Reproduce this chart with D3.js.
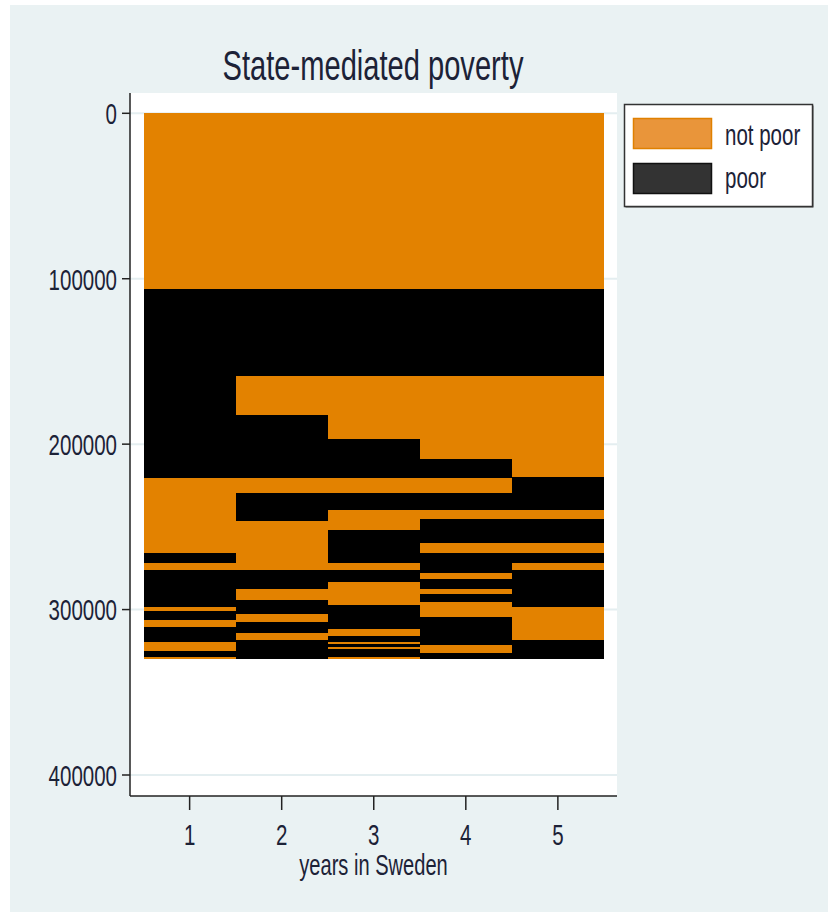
<!DOCTYPE html>
<html>
<head>
<meta charset="utf-8">
<script src="https://cdn.jsdelivr.net/npm/d3@7"></script>
<style>
  html, body { margin: 0; padding: 0; background: #ffffff; }
  svg { display: block; }
  text { font-family: "Liberation Sans", Arial, sans-serif; fill: #1c2237; }
</style>
</head>
<body>
<div id="chart"></div>
<script>
// ---- data ----
const chartTitle = "State-mediated poverty";
const xTitle = "years in Sweden";
const years = [1, 2, 3, 4, 5];
const stateLabels = ["not poor", "poor"];
const stateColors = ["#e38200", "#000000"];
const legendFill = ["#e9953a", "#333333"];
const legendStroke = ["#e08000", "#111111"];
const totalN = 329700;
const yTicks = [0, 100000, 200000, 300000, 400000];
// change points (cumulative sequence index); states alternate starting with "not poor"
const year1Breaks = [0, 106200, 220700, 265500, 271800, 276200, 298400, 300900, 306400, 310800, 319500, 325200, 328400];
const year2Breaks = [0, 106200, 158800, 182400, 220700, 229700, 246300, 276200, 287500, 294000, 302800, 307400, 314100, 318400];
const year3Breaks = [0, 106200, 158800, 196700, 220700, 229700, 239800, 251900, 271800, 276200, 283200, 297300, 312000, 316200, 319500, 320600, 322500, 324000, 328400];
const year4Breaks = [0, 106200, 158800, 209000, 220700, 229700, 239800, 245500, 260000, 265500, 277600, 281700, 287500, 290800, 295300, 304200, 321500, 326000];
const year5Breaks = [0, 106200, 158800, 220100, 239800, 245500, 260000, 265500, 271800, 276200, 298400, 318400];
const breaksByYear = [year1Breaks, year2Breaks, year3Breaks, year4Breaks, year5Breaks];

// ---- layout ----
const W = 833, H = 916;
const sx = 0.82, sy = 1.2; // condensed, tall Stata-like lettering

const svg = d3.select("#chart").append("svg").attr("width", W).attr("height", H);

svg.append("rect").attr("x", 10).attr("y", 5).attr("width", 818).attr("height", 907).attr("fill", "#eaf2f3");

const plotL = 130, plotR = 617, plotT = 93, plotB = 796;
svg.append("rect").attr("x", plotL).attr("y", plotT).attr("width", plotR - plotL).attr("height", plotB - plotT).attr("fill", "#ffffff");

const x = d3.scaleLinear().domain([0.5, 5.5]).range([143.6, 603.9]);
const y = d3.scaleLinear().domain([0, 400000]).range([113.3, 775]);

// gridlines
svg.append("g").selectAll("line").data(yTicks).join("line")
  .attr("x1", plotL).attr("x2", plotR)
  .attr("y1", d => y(d)).attr("y2", d => y(d))
  .attr("stroke", "#e4eef0").attr("stroke-width", 2);

// segments
const segs = [];
breaksByYear.forEach((br, yi) => {
  br.forEach((b, i) => {
    const end = i + 1 < br.length ? br[i + 1] : totalN;
    segs.push({ year: years[yi], start: b, end: end, state: i % 2 });
  });
});
svg.append("g").selectAll("rect").data(segs).join("rect")
  .attr("x", d => x(d.year - 0.5))
  .attr("width", d => x(d.year + 0.5) - x(d.year - 0.5))
  .attr("y", d => y(d.start))
  .attr("height", d => y(d.end) - y(d.start))
  .attr("fill", d => stateColors[d.state])
  .attr("shape-rendering", "crispEdges");

// axes lines
svg.append("line").attr("x1", plotL).attr("x2", plotL).attr("y1", plotT).attr("y2", plotB)
  .attr("stroke", "#222").attr("stroke-width", 1.5);
svg.append("line").attr("x1", plotL).attr("x2", plotR).attr("y1", plotB).attr("y2", plotB)
  .attr("stroke", "#222").attr("stroke-width", 1.5);

// y ticks + labels
svg.append("g").selectAll("line").data(yTicks).join("line")
  .attr("x1", 122).attr("x2", plotL).attr("y1", d => y(d)).attr("y2", d => y(d))
  .attr("stroke", "#222").attr("stroke-width", 1.5);
svg.append("g").selectAll("g").data(yTicks).join("g")
  .attr("transform", d => `translate(117,${y(d)}) scale(${sx},${sy})`)
  .append("text").attr("text-anchor", "end").attr("dy", "0.36em")
  .attr("font-size", 25).text(d => d);

// x ticks + labels
svg.append("g").selectAll("line").data(years).join("line")
  .attr("x1", d => x(d)).attr("x2", d => x(d)).attr("y1", plotB).attr("y2", 810)
  .attr("stroke", "#222").attr("stroke-width", 1.5);
svg.append("g").selectAll("g").data(years).join("g")
  .attr("transform", d => `translate(${x(d)},845) scale(${sx},${sy})`)
  .append("text").attr("text-anchor", "middle").attr("font-size", 25).text(d => d);

// axis title
svg.append("g").attr("transform", `translate(373.5,875) scale(${sx},${sy})`)
  .append("text").attr("text-anchor", "middle").attr("font-size", 24.5).text(xTitle);

// chart title
svg.append("g").attr("transform", `translate(373,80) scale(${sx},${sy})`)
  .append("text").attr("text-anchor", "middle").attr("font-size", 35.5).text(chartTitle);

// legend
const lg = svg.append("g");
lg.append("rect").attr("x", 625.5).attr("y", 105.5).attr("width", 188).attr("height", 102)
  .attr("fill", "#555");
lg.append("rect").attr("x", 624.5).attr("y", 104.5).attr("width", 188).attr("height", 102)
  .attr("fill", "#ffffff").attr("stroke", "#333").attr("stroke-width", 1.5);
const legY = [118, 163];
lg.selectAll("rect.sw").data(stateLabels).join("rect").attr("class", "sw")
  .attr("x", 633.5).attr("y", (d, i) => legY[i] + 0.5).attr("width", 78).attr("height", 30)
  .attr("fill", (d, i) => legendFill[i]).attr("stroke", (d, i) => legendStroke[i]).attr("stroke-width", 1.5);
lg.selectAll("g.lab").data(stateLabels).join("g").attr("class", "lab")
  .attr("transform", (d, i) => `translate(725,${[145, 188][i]}) scale(${sx},${sy})`)
  .append("text").attr("font-size", 25).text(d => d);
</script>
</body>
</html>
